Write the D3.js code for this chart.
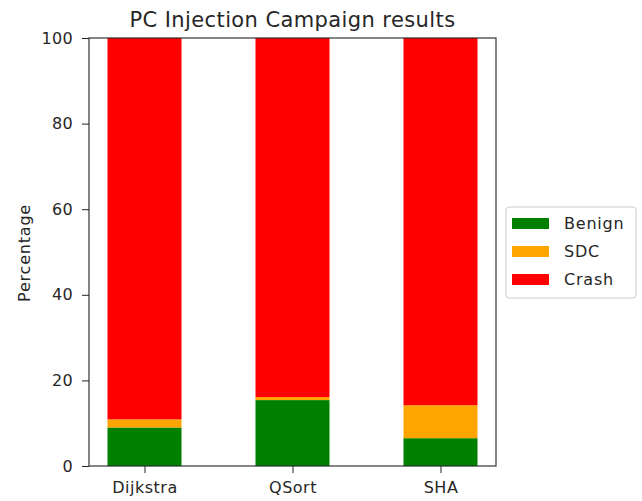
<!DOCTYPE html>
<html><head><meta charset="utf-8">
<script src="https://cdn.jsdelivr.net/npm/d3@7"></script>
<style>body{margin:0;background:#fff}svg{display:block}text{font-family:"DejaVu Sans",sans-serif;fill:#262626}</style>
</head><body><svg id="c" width="642" height="501"></svg>
<script>
const categories = ["Dijkstra","QSort","SHA"];
const benign = [9.0, 15.4, 6.5];
const sdc = [1.9, 0.7, 7.7];
const crash = [89.1, 83.9, 85.8];
const seriesNames = ["Benign","SDC","Crash"];
const seriesColors = ["green","orange","red"];
const yTicks = [0,20,40,60,80,100];

const svg = d3.select("#c");
const L=89,R=496,T=38,B=466;
const x = d3.scaleLinear().domain([-0.375, 2.375]).range([L,R]);
const y = d3.scaleLinear().domain([0,100]).range([B,T]);
const bw = 0.5;

const rows = categories.map((c,i)=>({cat:c, i, Benign:benign[i], SDC:sdc[i], Crash:crash[i]}));
const stack = d3.stack().keys(seriesNames)(rows);
const g = svg.append("g");
stack.forEach((s,k)=>{
  g.selectAll(null).data(s).enter().append("rect")
   .attr("x", d=>x(d.data.i - bw/2))
   .attr("width", d=>x(d.data.i + bw/2)-x(d.data.i - bw/2))
   .attr("y", d=>y(Math.min(d[1],100)))
   .attr("height", d=>y(d[0])-y(Math.min(d[1],100)))
   .attr("fill", seriesColors[k]);
});

// frame
svg.append("rect").attr("x",L).attr("y",T).attr("width",R-L).attr("height",B-T)
  .attr("fill","none").attr("stroke","#222").attr("stroke-width",1.1);

// y axis
const ya = svg.append("g").attr("transform",`translate(${L},0)`)
  .call(d3.axisLeft(y).tickValues(yTicks).tickSize(7).tickPadding(9).tickFormat(d3.format("d")));
ya.select(".domain").remove();
ya.selectAll("line").attr("stroke","#222");
ya.selectAll("text").attr("font-size","16px").attr("letter-spacing","0.3px").attr("fill","#262626").attr("font-family","DejaVu Sans");

// x axis
const xa = svg.append("g").attr("transform",`translate(0,${B})`)
  .call(d3.axisBottom(x).tickValues(categories.map((c,i)=>i)).tickSize(7).tickPadding(9).tickFormat(i=>categories[i]));
xa.select(".domain").remove();
xa.selectAll("line").attr("stroke","#222");
xa.selectAll("text").attr("font-size","16px").attr("letter-spacing","0.5px").attr("fill","#262626").attr("font-family","DejaVu Sans");

// title
svg.append("text").attr("x",(L+R)/2).attr("y",27).attr("text-anchor","middle")
  .attr("font-size","21px").attr("letter-spacing","0.4px").text("PC Injection Campaign results");

// y label
svg.append("text").attr("transform",`translate(30,${(T+B)/2 + 1}) rotate(-90)`)
  .attr("text-anchor","middle").attr("font-size","16px").attr("letter-spacing","0.8px").text("Percentage");

// legend
const lg = svg.append("g").attr("transform","translate(506,207)");
lg.append("rect").attr("width",130).attr("height",91).attr("rx",3)
  .attr("fill","#fff").attr("stroke","#ccc");
seriesNames.forEach((n,k)=>{
  const yy = 16 + k*28;
  lg.append("rect").attr("x",6).attr("y",yy-5).attr("width",37).attr("height",11).attr("fill",seriesColors[k]);
  lg.append("text").attr("x",58).attr("y",yy+6).attr("font-size","16px").attr("letter-spacing","0.8px").text(n);
});
</script></body></html>
